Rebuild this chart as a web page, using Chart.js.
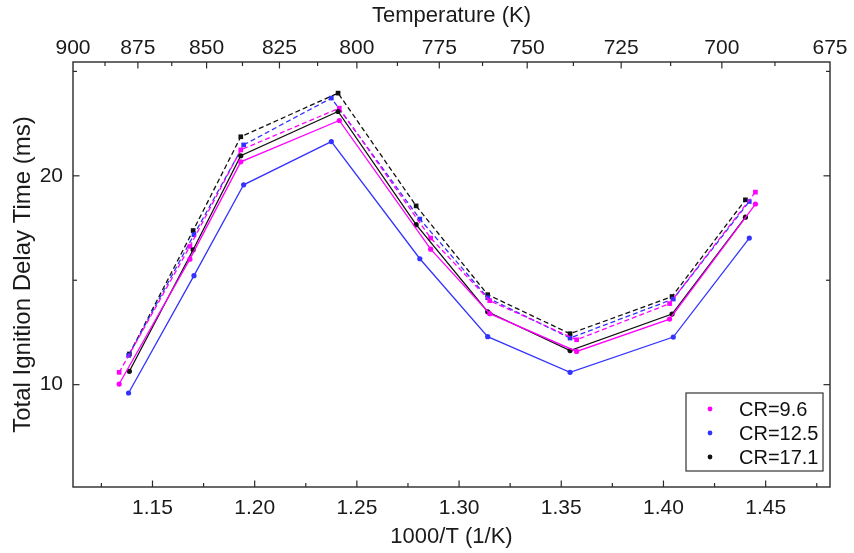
<!DOCTYPE html>
<html>
<head>
<meta charset="utf-8">
<script src="https://cdn.jsdelivr.net/npm/chart.js@4/dist/chart.umd.min.js"></script>
<style>
  html, body { margin: 0; padding: 0; background: #fff; }
  #wrap { width: 854px; height: 553px; }
</style>
</head>
<body>
<div id="wrap"><canvas id="c" width="854" height="553"></canvas></div>
<script>
// Compression ratio labels and colours
const crLabels = ['CR=9.6', 'CR=12.5', 'CR=17.1'];
const crColors = ['#ff00ff', '#3333ff', '#111111'];

// 1000/T (1/K) for each compression ratio
const x96  = [1.1337, 1.1683, 1.1932, 1.2414, 1.2861, 1.3150, 1.3575, 1.4030, 1.4450];
const x125 = [1.1383, 1.1703, 1.1946, 1.2375, 1.2808, 1.3140, 1.3543, 1.4048, 1.4420];
const x171 = [1.1387, 1.1699, 1.1932, 1.2408, 1.2790, 1.3140, 1.3543, 1.4042, 1.4401];

// Total ignition delay time (ms), solid and dashed curves
const solid96   = [10.03, 16.01, 20.67, 22.65, 16.49, 13.40, 11.59, 13.14, 18.65];
const dashed96  = [10.59, 16.62, 21.24, 23.24, 17.02, 14.02, 12.15, 13.88, 19.22];
const solid125  = [9.60, 15.22, 19.57, 21.64, 16.03, 12.30, 10.59, 12.28, 17.02];
const dashed125 = [11.40, 17.18, 21.48, 23.72, 17.93, 14.16, 12.23, 14.10, 18.77];
const solid171  = [10.64, 16.46, 20.96, 23.08, 17.66, 13.49, 11.63, 13.38, 18.02];
const dashed171 = [11.47, 17.38, 21.87, 23.96, 18.56, 14.31, 12.44, 14.22, 18.85];

// Axis ticks
const invTTicks = [1.15, 1.20, 1.25, 1.30, 1.35, 1.40, 1.45];
const tempTicks = [900, 875, 850, 825, 800, 775, 750, 725, 700, 675];
const yTicks = [10, 20];

const X_MIN = 1000 / 900, X_MAX = 1000 / 675;
const Y_MIN = 5.1, Y_MAX = 25.45;

const FONT = '"Liberation Sans", Arial, Helvetica, sans-serif';
Chart.defaults.font.family = FONT;
Chart.defaults.color = '#1a1a1a';

const pts = (xs, ys) => xs.map((x, i) => ({ x, y: ys[i] }));

function series(label, color, xs, ys, dashed) {
  return {
    label,
    data: pts(xs, ys),
    borderColor: color,
    backgroundColor: color,
    borderWidth: 1.3,
    borderDash: dashed ? [5, 3] : [],
    pointStyle: dashed ? 'rect' : 'circle',
    pointRadius: dashed ? 3.3 : 2.6,
    pointBorderWidth: 0,
    tension: 0,
    showLine: true,
    dashedCurve: dashed
  };
}

const datasets = [
  series(crLabels[0], crColors[0], x96, solid96, false),
  series(crLabels[1], crColors[1], x125, solid125, false),
  series(crLabels[2], crColors[2], x171, solid171, false),
  series(crLabels[0], crColors[0], x96, dashed96, true),
  series(crLabels[1], crColors[1], x125, dashed125, true),
  series(crLabels[2], crColors[2], x171, dashed171, true)
];

// Frame with inward major and minor ticks on all four sides
const framePlugin = {
  id: 'frame',
  afterDatasetsDraw(chart) {
    const { ctx, chartArea: a, scales } = chart;
    const MAJ = 6.5, MIN = 4;
    ctx.save();
    ctx.strokeStyle = '#2a2a2a';
    ctx.lineWidth = 1.4;
    ctx.strokeRect(a.left, a.top, a.right - a.left, a.bottom - a.top);
    ctx.lineWidth = 1.2;
    const seg = (x1, y1, x2, y2) => { ctx.beginPath(); ctx.moveTo(x1, y1); ctx.lineTo(x2, y2); ctx.stroke(); };
    const mids = (vals) => {
      const out = [];
      for (let i = 0; i < vals.length - 1; i++) out.push((vals[i] + vals[i + 1]) / 2);
      const step = vals[1] - vals[0];
      out.push(vals[0] - step / 2, vals[vals.length - 1] + step / 2);
      return out;
    };
    // bottom
    const xs = scales.x;
    invTTicks.forEach(v => { const p = xs.getPixelForValue(v); seg(p, a.bottom, p, a.bottom - MAJ); });
    mids(invTTicks).forEach(v => {
      if (v > X_MIN && v < X_MAX) { const p = xs.getPixelForValue(v); seg(p, a.bottom, p, a.bottom - MIN); }
    });
    // top (temperature)
    const xt = scales.x2;
    tempTicks.forEach(t => {
      const v = 1000 / t;
      if (v > X_MIN + 1e-6 && v < X_MAX - 1e-6) { const p = xt.getPixelForValue(v); seg(p, a.top, p, a.top + MAJ); }
    });
    mids(tempTicks).forEach(t => {
      const v = 1000 / t;
      if (v > X_MIN && v < X_MAX) { const p = xt.getPixelForValue(v); seg(p, a.top, p, a.top + MIN); }
    });
    // left and right
    const ys = scales.y;
    yTicks.forEach(v => {
      const p = ys.getPixelForValue(v);
      seg(a.left, p, a.left + MAJ, p);
      seg(a.right, p, a.right - MAJ, p);
    });
    mids(yTicks).forEach(v => {
      if (v > Y_MIN && v < Y_MAX) {
        const p = ys.getPixelForValue(v);
        seg(a.left, p, a.left + MIN, p);
        seg(a.right, p, a.right - MIN, p);
      }
    });
    ctx.restore();
  }
};

// Boxed legend in the lower right corner of the plot
const boxLegend = {
  id: 'boxLegend',
  afterDraw(chart) {
    const { ctx, chartArea: a } = chart;
    const w = 137, h = 78;
    const x0 = a.right - 144, y0 = a.bottom - 94;
    ctx.save();
    ctx.fillStyle = '#fff';
    ctx.fillRect(x0, y0, w, h);
    ctx.strokeStyle = '#333';
    ctx.lineWidth = 1.2;
    ctx.strokeRect(x0, y0, w, h);
    ctx.font = '20px ' + FONT;
    ctx.textBaseline = 'middle';
    ctx.textAlign = 'left';
    const rows = chart.data.datasets.filter(d => !d.dashedCurve);
    rows.forEach((d, i) => {
      const cy = y0 + 16 + i * 24;
      ctx.fillStyle = d.borderColor;
      ctx.beginPath();
      ctx.arc(x0 + 24, cy, 2.4, 0, Math.PI * 2);
      ctx.fill();
      ctx.fillStyle = '#111';
      ctx.fillText(d.label, x0 + 53, cy + 1);
    });
    ctx.restore();
  }
};

new Chart(document.getElementById('c'), {
  type: 'scatter',
  data: { datasets },
  plugins: [framePlugin, boxLegend],
  options: {
    responsive: false,
    animation: false,
    devicePixelRatio: 1,
    layout: { padding: { left: 0, right: 24, top: 0, bottom: 0 } },
    plugins: { legend: { display: false }, tooltip: { enabled: false } },
    scales: {
      x: {
        type: 'linear', position: 'bottom', min: X_MIN, max: X_MAX,
        afterBuildTicks: s => { s.ticks = invTTicks.map(v => ({ value: v })); },
        afterFit: s => { s.height = 66; },
        grid: { display: false, drawTicks: false },
        border: { display: false },
        ticks: { padding: 9, font: { size: 21 }, callback: v => Number(v).toFixed(2), maxRotation: 0, autoSkip: false },
        title: { display: true, text: '1000/T (1/K)', font: { size: 22 }, padding: { top: 0, bottom: 3 } }
      },
      x2: {
        type: 'linear', position: 'top', min: X_MIN, max: X_MAX,
        afterBuildTicks: s => { s.ticks = tempTicks.map(t => ({ value: 1000 / t })); },
        afterFit: s => { s.height = 62; },
        grid: { display: false, drawTicks: false },
        border: { display: false },
        ticks: { padding: 1, font: { size: 21 }, callback: v => String(Math.round(1000 / v)), maxRotation: 0, autoSkip: false },
        title: { display: true, text: 'Temperature (K)', font: { size: 22 }, padding: { top: 3, bottom: 0 } }
      },
      y: {
        type: 'linear', position: 'left', min: Y_MIN, max: Y_MAX,
        afterBuildTicks: s => { s.ticks = yTicks.map(v => ({ value: v })); },
        afterFit: s => { s.width = 73; },
        grid: { display: false, drawTicks: false },
        border: { display: false },
        ticks: { padding: 10, font: { size: 21 } },
        title: { display: true, text: 'Total Ignition Delay Time (ms)', font: { size: 24 }, padding: { top: 9, bottom: 0 } }
      }
    }
  }
});
</script>
</body>
</html>
